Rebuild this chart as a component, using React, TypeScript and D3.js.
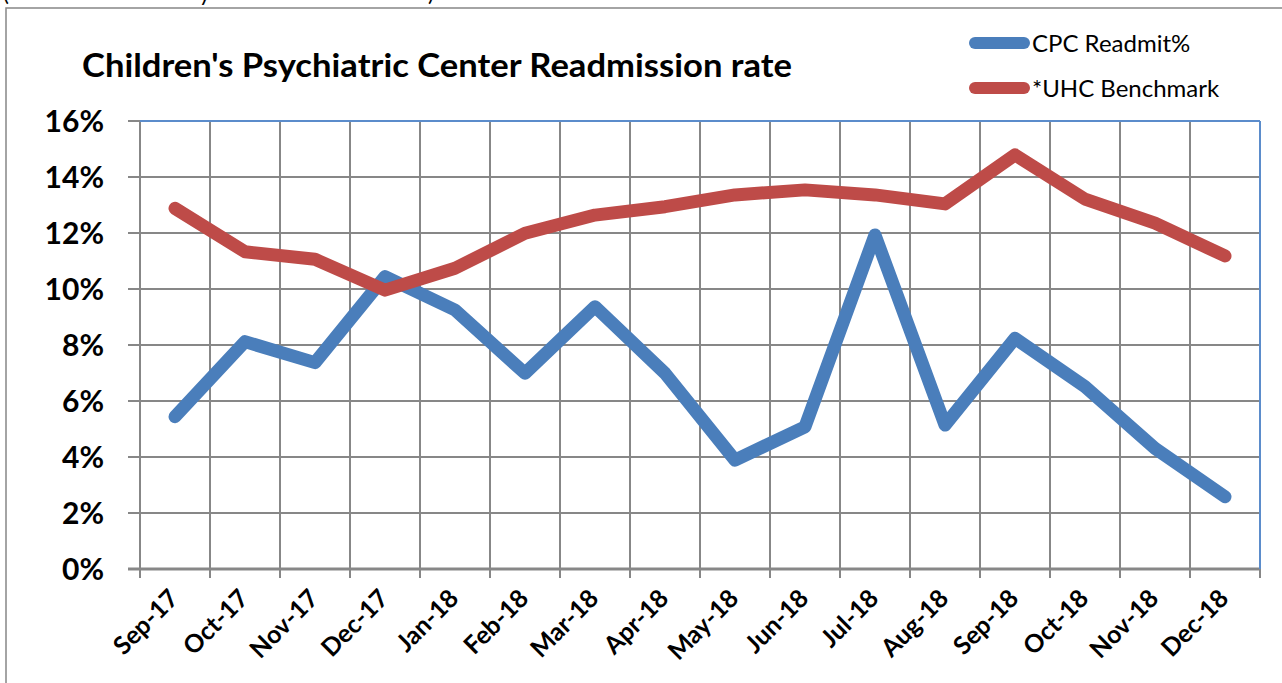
import React from "react";
import * as d3 from "d3";

const categories = ["Sep-17","Oct-17","Nov-17","Dec-17","Jan-18","Feb-18","Mar-18","Apr-18","May-18","Jun-18","Jul-18","Aug-18","Sep-18","Oct-18","Nov-18","Dec-18"];
const cpcReadmit = [0.0544,0.0812,0.0737,0.1044,0.0925,0.0699,0.0937,0.0699,0.0389,0.0508,0.1193,0.0514,0.0824,0.0651,0.0431,0.0258];
const uhcBenchmark = [0.1288,0.1133,0.1106,0.0996,0.1074,0.1199,0.1264,0.1294,0.1336,0.1354,0.1336,0.1304,0.1479,0.1321,0.1235,0.1118];
const yTicks = [0,0.02,0.04,0.06,0.08,0.1,0.12,0.14,0.16];
const seriesNames = ["CPC Readmit%","*UHC Benchmark"];

const W = 1282, H = 683;
const FONT = "Lato, 'Open Sans', sans-serif";
const BLUE = "#4A7EBB";
const RED = "#BE4B48";
const GRID = "#878787";

export default function App() {
  const x = d3.scaleBand<string>().domain(categories).range([140, 1260]).padding(0);
  const y = d3.scaleLinear().domain([0, 0.16]).range([569, 121]);
  const cx = (c: string) => (x(c) as number) + x.bandwidth() / 2;
  const line = d3.line<number>().x((_, i) => cx(categories[i])).y(d => y(d));
  const bounds = [...categories.map(c => x(c) as number), 1260];
  const fmt = d3.format(".0%");
  const series = [
    { name: seriesNames[0], data: cpcReadmit, color: BLUE },
    { name: seriesNames[1], data: uhcBenchmark, color: RED },
  ];
  return (
    <svg width={W} height={H} style={{ position: "absolute", left: 0, top: 0, background: "#fff" }} fontFamily={FONT}>
      {/* clipped header text above chart */}
      <text x={3} y={1} fontSize={22} fill="#000">(</text>
      <text x={199} y={1} fontSize={22} fill="#000">y</text>
      <text x={428} y={1} fontSize={22} fill="#000">)</text>
      {/* outer chart border */}
      <rect x={6} y={8} width={W + 20} height={H + 20} fill="#fff" stroke={GRID} strokeWidth={1.5} />
      {/* horizontal gridlines */}
      {yTicks.map(t => (
        <line key={"h" + t} x1={128} x2={1260} y1={y(t)} y2={y(t)} stroke={GRID} strokeWidth={t === 0 ? 3 : 2} />
      ))}
      {/* vertical gridlines and ticks */}
      {bounds.map((b, i) => (
        <line key={"v" + i} x1={b} x2={b} y1={121} y2={578} stroke={GRID} strokeWidth={2} />
      ))}
      {/* plot area top/right border */}
      <line x1={140} x2={1260} y1={121} y2={121} stroke="#5B8CCB" strokeWidth={2} />
      <line x1={1260} x2={1260} y1={121} y2={569} stroke="#5B8CCB" strokeWidth={2} />
      {/* y labels */}
      {yTicks.map(t => (
        <text key={"yl" + t} x={104} y={y(t) + 11} textAnchor="end" fontSize={30} fontWeight="bold" fill="#000">{fmt(t)}</text>
      ))}
      {/* x labels */}
      {categories.map(c => (
        <text key={"xl" + c} transform={`translate(${cx(c) + 5},${600}) rotate(-45)`} textAnchor="end" fontSize={25} fontWeight="bold" fill="#000">{c}</text>
      ))}
      {/* series */}
      {series.map(s => (
        <path key={s.name} d={line(s.data) as string} fill="none" stroke={s.color} strokeWidth={13} strokeLinejoin="round" strokeLinecap="round" />
      ))}
      {/* title */}
      <text x={82} y={77} fontSize={33} fontWeight="bold" fill="#000" textLength={710} lengthAdjust="spacingAndGlyphs">Children's Psychiatric Center Readmission rate</text>
      {/* legend */}
      {series.map((s, i) => (
        <g key={"lg" + s.name}>
          <line x1={975} x2={1024} y1={43 + i * 45} y2={43 + i * 45} stroke={s.color} strokeWidth={12} strokeLinecap="round" />
          <text x={1032} y={52 + i * 45} fontSize={24} fill="#000">{s.name}</text>
        </g>
      ))}
    </svg>
  );
}
